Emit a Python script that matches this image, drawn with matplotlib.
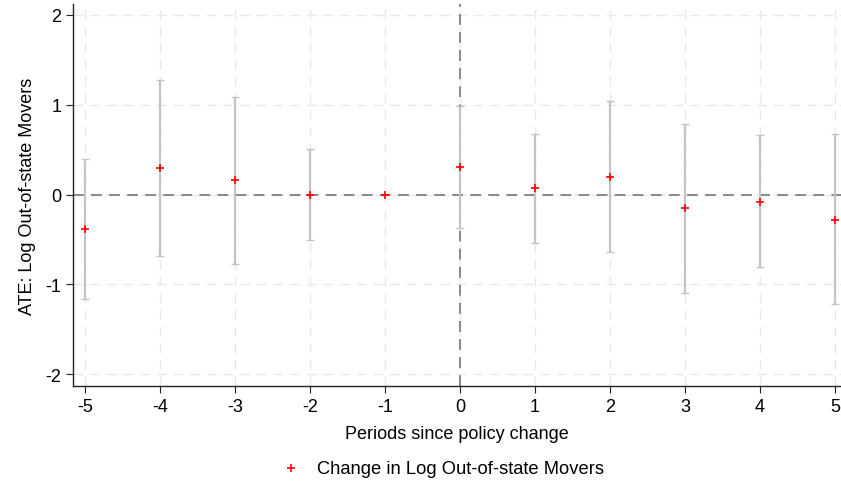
import matplotlib
matplotlib.use("Agg")
import matplotlib.pyplot as plt
import numpy as np

plt.rcParams['font.family'] = ['Liberation Sans', 'DejaVu Sans']

periods = [-5, -4, -3, -2, -1, 0, 1, 2, 3, 4, 5]
estimates = [-0.38, 0.30, 0.16, 0.00, 0.00, 0.31, 0.07, 0.20, -0.15, -0.08, -0.28]
ci_upper = [0.40, 1.28, 1.08, 0.51, 0.00, 0.98, 0.67, 1.04, 0.79, 0.66, 0.67]
ci_lower = [-1.16, -0.68, -0.77, -0.51, 0.00, -0.37, -0.54, -0.64, -1.09, -0.81, -1.22]
yticks = [-2, -1, 0, 1, 2]

fig = plt.figure(figsize=(8.41, 4.85), dpi=100)
ax = fig.add_axes([73/841, 1 - 387/485, (841 - 73)/841, (387 - 5)/485])

x = np.array(periods)
est = np.array(estimates)
up = np.array(ci_upper)
lo = np.array(ci_lower)
mask = up != lo

ax.errorbar(x[mask], est[mask], yerr=[est[mask] - lo[mask], up[mask] - est[mask]],
            fmt='none', ecolor='#c4c4c4', elinewidth=1.6, capsize=3, capthick=1.0, zorder=3)
ax.axhline(0, color='#808080', linestyle=(0, (6, 4)), linewidth=1.3, zorder=2)
ax.axvline(0, color='#808080', linestyle=(0, (6, 4)), linewidth=1.3, zorder=2)
ax.scatter(x, est, marker='+', color='#ff0000', s=40, linewidths=1.2, zorder=4,
           label='Change in Log Out-of-state Movers')

ax.set_xlim(-5.16, 5.08)
ax.set_ylim(-2.13, 2.12)
ax.set_xticks(periods)
ax.set_yticks(yticks)
ax.set_xticklabels([str(p) for p in periods])
ax.set_yticklabels([str(t) for t in yticks])
ax.grid(True, color='#e8e8e8', linestyle=(0, (7, 5)), linewidth=1.0, zorder=0)
ax.set_axisbelow(True)
for s in ['top', 'right']:
    ax.spines[s].set_visible(False)
for s in ['left', 'bottom']:
    ax.spines[s].set_color('#222222')
    ax.spines[s].set_linewidth(1.0)
ax.tick_params(axis='both', labelsize=13, length=5, color='#222222')
ax.set_xlabel('Periods since policy change', fontsize=13, labelpad=7)
ax.set_ylabel('ATE: Log Out-of-state Movers', fontsize=13, labelpad=7)

fig.legend(loc='lower center', bbox_to_anchor=(0.521, -0.019), frameon=False, fontsize=13.2,
           handletextpad=0.4, markerscale=0.8)

fig.savefig('out.png', dpi=100)
